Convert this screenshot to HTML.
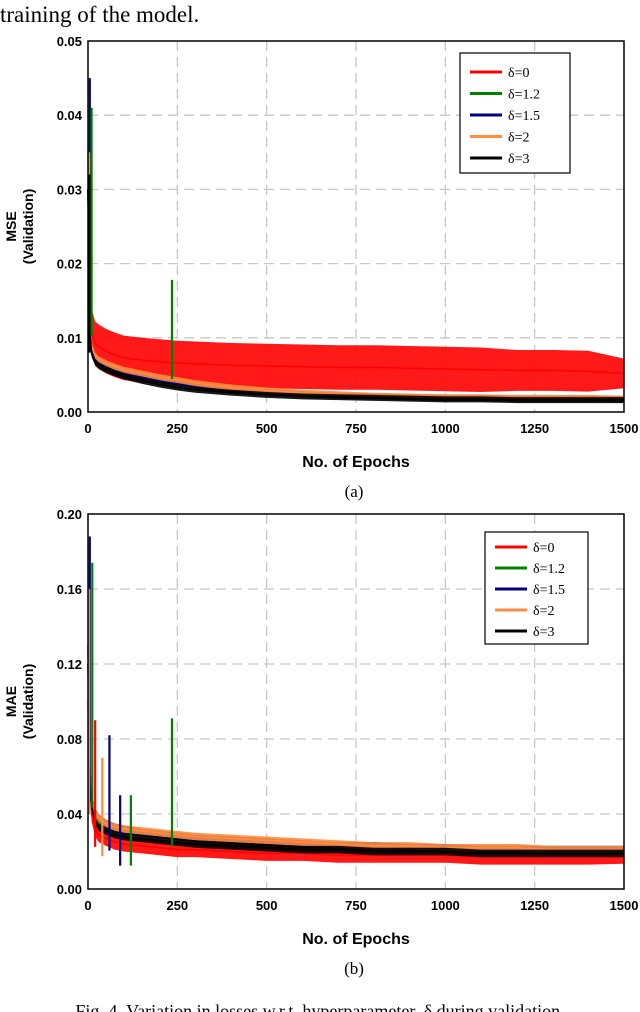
<!DOCTYPE html>
<html><head><meta charset="utf-8"><style>
body{margin:0;background:#fff;width:640px;height:1012px;overflow:hidden;}
svg{display:block}
</style></head><body>
<svg id="s" width="640" height="1012" xmlns="http://www.w3.org/2000/svg">
<text x="0" y="22" font-family="Liberation Serif, serif" font-size="23">training of the model.</text>
<text x="320" y="1017" text-anchor="middle" font-family="Liberation Serif, serif" font-size="18">Fig. 4. Variation in losses w.r.t. hyperparameter, δ during validation.</text>
</svg>
<script>
const epochs=[0,5,10,20,30,50,75,100,150,200,250,300,400,500,600,700,800,900,1000,1100,1200,1300,1400,1500];
// Chart (a) MSE
const mseRed=[0.03,0.016,0.011,0.0092,0.0088,0.0082,0.0077,0.0073,0.007,0.0068,0.0066,0.0065,0.0063,0.0062,0.0061,0.006,0.006,0.0059,0.0058,0.0057,0.0056,0.0056,0.0055,0.0052];
const mseRedSpread=[0.004,0.005,0.006,0.006,0.006,0.006,0.006,0.006,0.006,0.006,0.006,0.006,0.006,0.006,0.006,0.006,0.006,0.006,0.006,0.006,0.0055,0.0055,0.0055,0.004];
const mseGreen=[0.03,0.013,0.0085,0.0072,0.0067,0.0062,0.0057,0.0053,0.0048,0.0043,0.004,0.0036,0.003,0.0027,0.0024,0.0022,0.0021,0.002,0.0019,0.0019,0.0018,0.0018,0.0018,0.0017];
const mseBlue=[0.03,0.013,0.0085,0.0073,0.0068,0.0063,0.0058,0.0054,0.0049,0.0044,0.004,0.0036,0.003,0.0027,0.0024,0.0022,0.0021,0.002,0.0019,0.0019,0.0018,0.0018,0.0018,0.0017];
const mseOrange=[0.035,0.014,0.009,0.0076,0.0071,0.0066,0.0061,0.0057,0.0052,0.0047,0.0043,0.0039,0.0033,0.0029,0.0026,0.0024,0.0022,0.0021,0.002,0.002,0.0019,0.0019,0.0019,0.0018];
const mseBlack=[0.03,0.012,0.0078,0.0067,0.0062,0.0057,0.0052,0.0048,0.0042,0.0037,0.0033,0.003,0.0026,0.0023,0.0021,0.002,0.0019,0.0018,0.0017,0.0017,0.0016,0.0016,0.0016,0.0016];
const mseSpikes=[["blue",5,0.045],["green",10,0.041],["orange",3,0.035],["green",235,0.0178],["black",4,0.032]];
// Chart (b) MAE
const maeRed=[0.1,0.058,0.04,0.032,0.029,0.027,0.025,0.024,0.023,0.022,0.021,0.021,0.02,0.019,0.019,0.018,0.018,0.018,0.018,0.017,0.017,0.017,0.017,0.017];
const maeRedSpread=[0.012,0.01,0.008,0.008,0.008,0.008,0.008,0.008,0.008,0.008,0.008,0.008,0.008,0.008,0.008,0.008,0.008,0.008,0.008,0.008,0.008,0.008,0.008,0.007];
const maeGreen=[0.12,0.065,0.048,0.04,0.037,0.034,0.032,0.031,0.03,0.029,0.028,0.027,0.026,0.025,0.024,0.023,0.023,0.022,0.022,0.021,0.021,0.021,0.021,0.021];
const maeBlue=[0.13,0.066,0.049,0.041,0.038,0.035,0.033,0.032,0.03,0.029,0.028,0.027,0.026,0.025,0.024,0.023,0.023,0.022,0.022,0.021,0.021,0.021,0.021,0.021];
const maeOrange=[0.13,0.066,0.049,0.041,0.038,0.035,0.033,0.032,0.031,0.03,0.029,0.028,0.027,0.026,0.025,0.024,0.023,0.023,0.022,0.022,0.022,0.021,0.021,0.021];
const maeBlack=[0.12,0.06,0.044,0.036,0.033,0.031,0.029,0.028,0.027,0.026,0.025,0.024,0.023,0.022,0.021,0.021,0.02,0.02,0.02,0.019,0.019,0.019,0.019,0.019];
const maeSpikes=[["blue",5,0.188],["green",12,0.174],["orange",3,0.16],["green",235,0.091],["blue",60,0.082],["red",20,0.09],["orange",40,0.07],["green",120,0.05],["blue",90,0.05]];
const xTicks=[0,250,500,750,1000,1250,1500];
const mseTicks=[0,0.01,0.02,0.03,0.04,0.05];
const maeTicks=[0,0.04,0.08,0.12,0.16,0.20];
const legendLabels=["δ=0","δ=1.2","δ=1.5","δ=2","δ=3"];
const col={red:"#ff0000",green:"#008000",blue:"#000080",orange:"#ff8c40",black:"#000000"};
const NS="http://www.w3.org/2000/svg",svg=document.getElementById('s');
function mk(t,a,p){const e=document.createElementNS(NS,t);for(const k in a)e.setAttribute(k,a[k]);(p||svg).appendChild(e);return e;}
function chart(o){
 const L=88,R=624,T=o.top,B=o.bottom;
 const X=v=>L+(R-L)*v/1500, Y=v=>B-(B-T)*v/o.ymax;
 const g=mk('g',{});
 
 
 xTicks.forEach(t=>{if(t>0&&t<1500){const l=mk('line',{x1:X(t),x2:X(t),y1:T,y2:B,stroke:'#c8c8c8','stroke-width':1.3,'stroke-dasharray':'10,6'},g);}
  const tx=mk('text',{x:X(t),y:B+21,'text-anchor':'middle','font-family':'Liberation Sans, sans-serif','font-size':13,'font-weight':'bold'},g);tx.textContent=t;});
 o.ticks.forEach(t=>{if(t>0&&t<o.ymax){const l=mk('line',{x1:L,x2:R,y1:Y(t),y2:Y(t),stroke:'#c8c8c8','stroke-width':1.3,'stroke-dasharray':'10,6'},g);}
  const tx=mk('text',{x:L-6,y:Y(t)+5,'text-anchor':'end','font-family':'Liberation Sans, sans-serif','font-size':13,'font-weight':'bold'},g);tx.textContent=t.toFixed(2);});
 o.series.forEach(s=>{
  const sg=mk('g',{},g);
  
  
  const sp=s.sp||epochs.map(()=>o.defSpread);
  let up=epochs.map((e,i)=>X(e)+','+Y(s.v[i]+sp[i]*0.5));
  let dn=epochs.map((e,i)=>X(e)+','+Y(Math.max(0,s.v[i]-sp[i]*0.5))).reverse();
  mk('polygon',{points:up.concat(dn).join(' '),fill:col[s.c],opacity:0.9},sg);
  mk('polyline',{points:epochs.map((e,i)=>X(e)+','+Y(s.v[i])).join(' '),fill:'none',stroke:col[s.c],'stroke-width':1.5},sg);
 });
 o.spikes.forEach(sp=>{const i=mk('line',{x1:X(sp[1]),x2:X(sp[1]),y1:Y(sp[2]),y2:Y(sp[2]*0.25),stroke:col[sp[0]],'stroke-width':2.2},g);});
 mk('rect',{x:L,y:T,width:R-L,height:B-T,fill:'none',stroke:'#000','stroke-width':1.5},g);
 const yt=mk('text',{transform:`translate(${o.ytx},${(T+B)/2}) rotate(-90)`,'text-anchor':'middle','font-family':'Liberation Sans, sans-serif','font-size':14,'font-weight':'bold'},g);
 
 const t1=mk('tspan',{x:0,y:-8},yt);t1.textContent=o.ytitle;const t2=mk('tspan',{x:0,y:9},yt);t2.textContent='(Validation)';
 const xt=mk('text',{x:(L+R)/2,y:B+55,'text-anchor':'middle','font-family':'Liberation Sans, sans-serif','font-size':16,'font-weight':'bold'},g);xt.textContent='No. of Epochs';
 
 const cap=mk('text',{x:(L+R)/2-2,y:B+85,'text-anchor':'middle','font-family':'Liberation Serif, serif','font-size':17},g);cap.textContent=o.cap;
 
 const lg=mk('g',{},g);
 mk('rect',{x:o.lx,y:o.ly,width:o.lw,height:o.lh,fill:'#fff',stroke:'#000','stroke-width':1.2},lg);
 ['red','green','blue','orange','black'].forEach((c,i)=>{const yy=o.ly+o.l0+i*o.ls;
  const e=mk('g',{},lg);
  mk('line',{x1:o.lx+10,x2:o.lx+42,y1:yy,y2:yy,stroke:col[c],'stroke-width':3},e);
  const t=mk('text',{x:o.lx+48,y:yy+5,'font-family':'Liberation Serif, serif','font-size':14},e);t.textContent=legendLabels[i];});
}
chart({name:'mse-chart',top:41,bottom:412,ymax:0.05,ticks:mseTicks,defSpread:0.0008,ytitle:'MSE',ytx:24,cap:'(a)',lx:460,ly:53,lw:110,lh:120,l0:19,ls:21.5,spikes:mseSpikes,
 series:[{c:'red',v:mseRed,sp:mseRedSpread},{c:'green',v:mseGreen},{c:'blue',v:mseBlue},{c:'orange',v:mseOrange},{c:'black',v:mseBlack}]});
chart({name:'mae-chart',top:514,bottom:889,ymax:0.2,ticks:maeTicks,defSpread:0.004,ytitle:'MAE',ytx:24,cap:'(b)',lx:485,ly:532,lw:103,lh:112,l0:15,ls:21,spikes:maeSpikes,
 series:[{c:'red',v:maeRed,sp:maeRedSpread},{c:'green',v:maeGreen},{c:'blue',v:maeBlue},{c:'orange',v:maeOrange},{c:'black',v:maeBlack}]});
</script>
</body></html>
